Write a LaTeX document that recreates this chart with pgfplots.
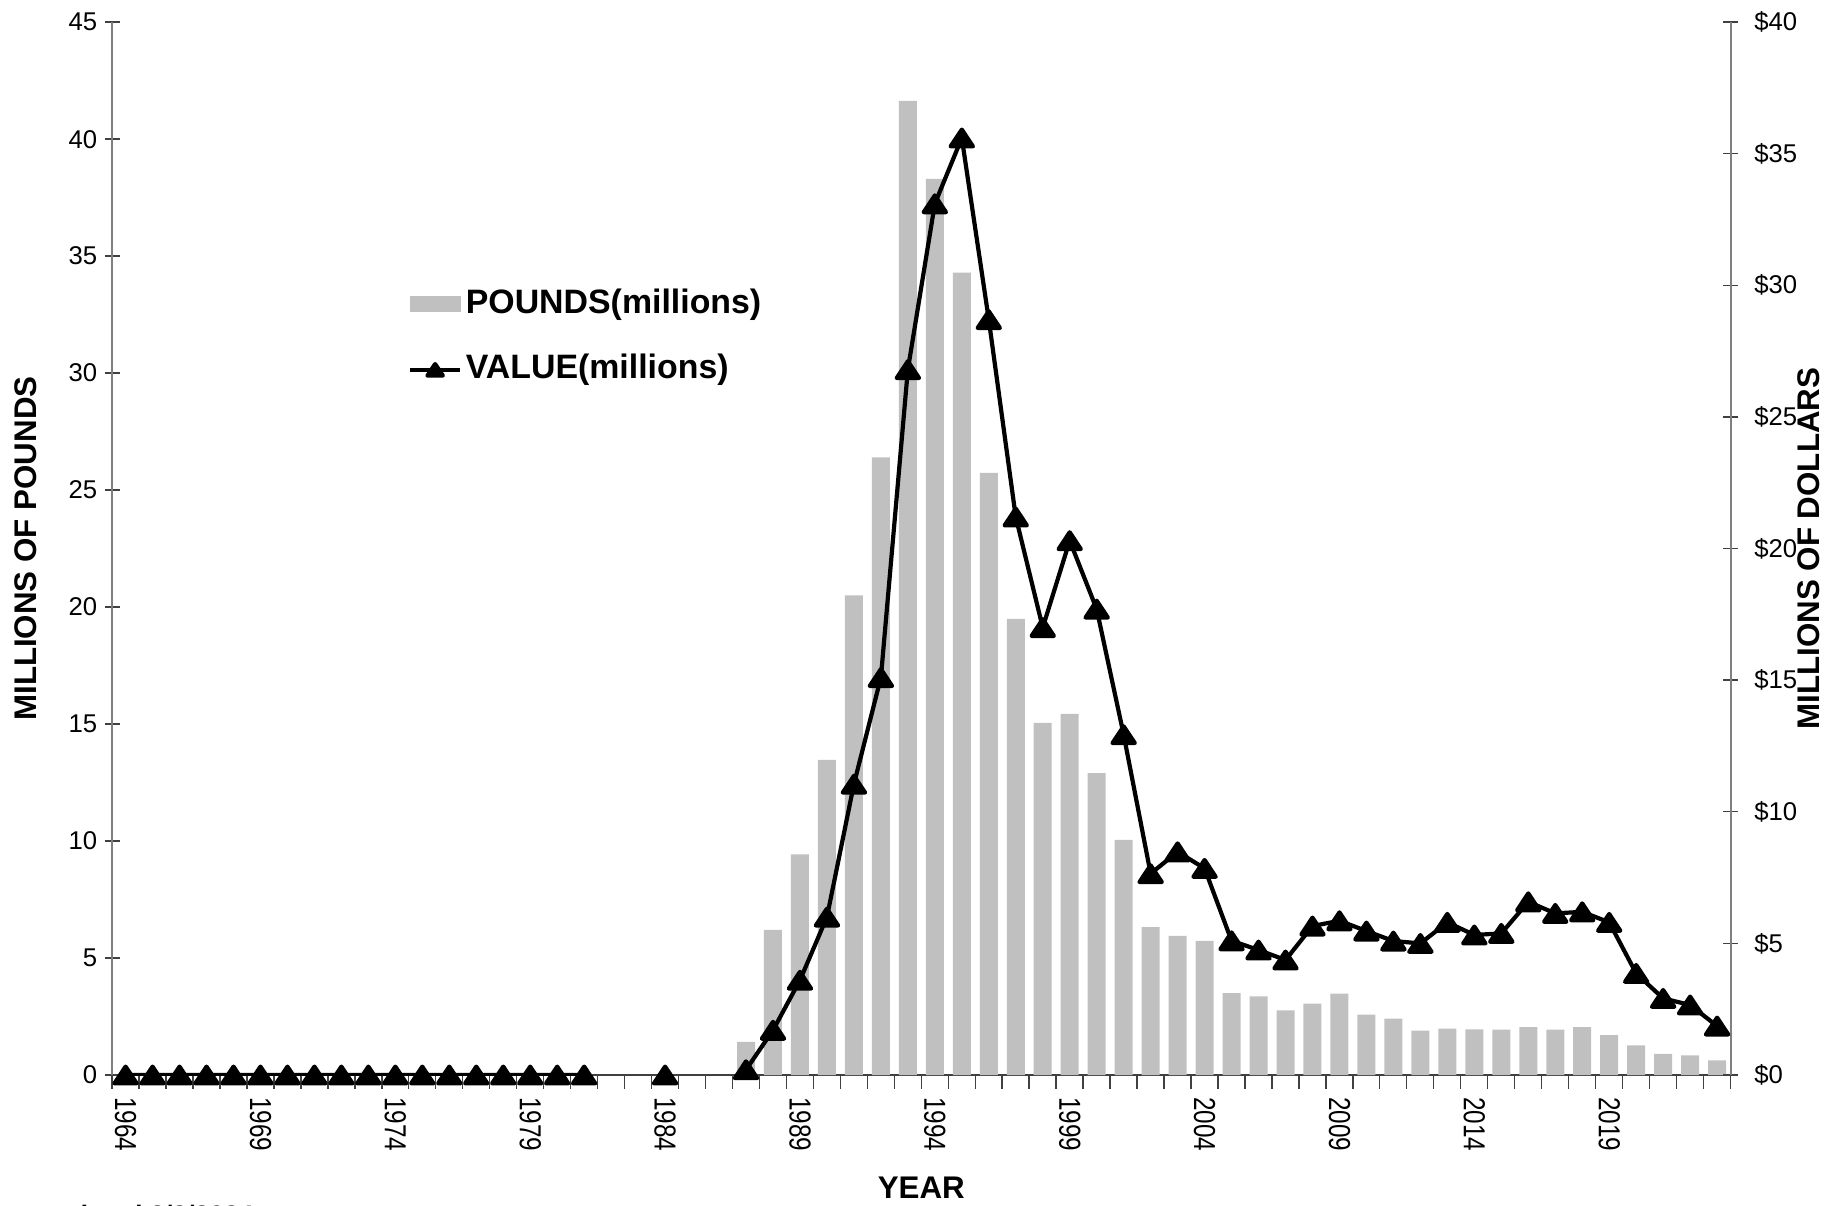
\documentclass[border=0pt]{standalone}
\usepackage{fontspec}
\setmainfont{Liberation Sans}
\newfontfamily\yearfont[FakeStretch=0.8]{Liberation Sans}
\usepackage{pgfplots}
\usepackage{pgfplotstable}
\pgfplotsset{compat=1.18}

\definecolor{barg}{HTML}{C0C0C0}
\definecolor{axg}{HTML}{808080}
\definecolor{axd}{HTML}{404040}

\pgfplotstableread{
year lbs
1987 1.42
1988 6.20
1989 9.43
1990 13.47
1991 20.50
1992 26.40
1993 41.64
1994 38.30
1995 34.30
1996 25.74
1997 19.50
1998 15.05
1999 15.44
2000 12.90
2001 10.05
2002 6.32
2003 5.95
2004 5.73
2005 3.50
2006 3.36
2007 2.76
2008 3.05
2009 3.48
2010 2.58
2011 2.41
2012 1.90
2013 1.98
2014 1.95
2015 1.94
2016 2.05
2017 1.94
2018 2.05
2019 1.70
2020 1.27
2021 0.90
2022 0.84
2023 0.63
}\lbstable

\pgfplotstableread{
year val
1964 0
1965 0
1966 0
1967 0
1968 0
1969 0
1970 0
1971 0
1972 0
1973 0
1974 0
1975 0
1976 0
1977 0
1978 0
1979 0
1980 0
1981 0
1982 nan
1983 nan
1984 0
1985 nan
1986 nan
1987 0.20
1988 1.70
1989 3.60
1990 6.00
1991 11.05
1992 15.10
1993 26.80
1994 33.10
1995 35.60
1996 28.70
1997 21.20
1998 17.00
1999 20.30
2000 17.70
2001 12.93
2002 7.65
2003 8.48
2004 7.85
2005 5.10
2006 4.75
2007 4.37
2008 5.66
2009 5.86
2010 5.47
2011 5.09
2012 5.00
2013 5.80
2014 5.32
2015 5.38
2016 6.58
2017 6.14
2018 6.20
2019 5.80
2020 3.86
2021 2.91
2022 2.66
2023 1.86
}\valtable

\pgfplotsset{
  common/.style={
    scale only axis, width=693pt, height=450.8pt,
    xmin=1963.5, xmax=2023.5,
    /pgf/number format/assume math mode=true,
    /pgf/number format/1000 sep={},
    tick align=center,
    major tick length=6.4pt, minor tick length=6pt,
    tick style={color=axd, line width=0.6pt},
    ticklabel style={font=\fontsize{11}{13}\selectfont},
    label style={font=\bfseries\fontsize{13.4}{15}\selectfont},
  },
  barleg/.style={legend image code/.code={\fill[barg] (0pt,-3.2pt) rectangle (21.5pt,3.2pt);}},
  lineleg/.style={legend image code/.code={\draw[black, line width=1.8pt, mark=triangle*, mark size=3.8pt, mark options={solid, yshift=-0.9pt, yscale=0.87}, mark repeat=2, mark phase=2] plot coordinates {(0pt,0pt) (10.75pt,0pt) (21.5pt,0pt)};}},
}

\begin{document}
\begin{tikzpicture}
\begin{axis}[common, name=main,
  ymin=0, ymax=45,
  axis x line*=bottom, axis y line*=left,
  x axis line style={-, color=axd, line width=0.7pt},
  y axis line style={-, color=axg, line width=0.8pt},
  ytick={0,5,...,45},
  yticklabel style={inner sep=0pt},
  yticklabel shift=3pt,
  xtick={1964,1969,...,2019},
  minor xtick={1963.5,1964.5,...,2023.5},
  major x tick style={draw=none},
  xticklabel style={rotate=-90, anchor=west, inner sep=0pt, font=\yearfont\fontsize{13}{15}\selectfont},
  xticklabel shift=3pt,
  xlabel={YEAR},
  xlabel style={at={(axis description cs:0.5,0)}, anchor=base, inner sep=0pt, yshift=-53pt},
  ylabel={MILLIONS OF POUNDS},
  ylabel style={at={(axis description cs:0,0.5)}, anchor=center, inner sep=0pt, yshift=36.9pt},
  ybar, bar width=7.7pt,
]
\addplot[ybar, fill=barg, draw=none, bar width=7.7pt] table[x=year, y=lbs] {\lbstable};
\end{axis}

\begin{axis}[common, at={(main.south west)}, anchor=south west,
  ymin=0, ymax=40,
  axis x line=none, xtick=\empty,
  axis y line*=right,
  y axis line style={-, color=axg, line width=0.8pt},
  ytick={0,5,...,40},
  yticklabels={\$0,\$5,\$10,\$15,\$20,\$25,\$30,\$35,\$40},
  yticklabel style={inner sep=0pt, anchor=west},
  yticklabel shift=6.8pt,
  ylabel={MILLIONS OF DOLLARS},
  ylabel style={at={(axis description cs:1,0.5)}, anchor=center, inner sep=0pt, yshift=-33.5pt},
  clip mode=individual,
  legend cell align=left,
  legend style={at={(axis description cs:0.1825,0.701)}, anchor=west,
    draw=none, fill=none, inner sep=0pt, row sep=14.5pt,
    font=\bfseries\fontsize{14.5}{16}\selectfont,
    nodes={inner sep=0pt, text height=10.5pt, text depth=3pt},
    /tikz/every odd column/.append style={column sep=1.5pt}},
]
\addlegendimage{barleg}
\addlegendentry{POUNDS(millions)}
\addplot[black, line width=1.8pt, line join=round, mark=triangle*, mark size=5.5pt,
  mark options={solid, yshift=-1.2pt, yscale=0.87}, unbounded coords=jump, lineleg]
  table[x=year, y=val] {\valtable};
\addlegendentry{VALUE(millions)}
\end{axis}

\node[anchor=base west, inner sep=0pt, font=\bfseries\fontsize{11.4}{13}\selectfont]
  at ([xshift=-58pt, yshift=-64pt]main.south west) {Last updated 2/3/2024};

\pgfresetboundingbox
\path[use as bounding box] ([xshift=-48pt, yshift=-55.7pt]main.south west) rectangle ([xshift=43pt, yshift=9.5pt]main.north east);
\end{tikzpicture}
\end{document}
